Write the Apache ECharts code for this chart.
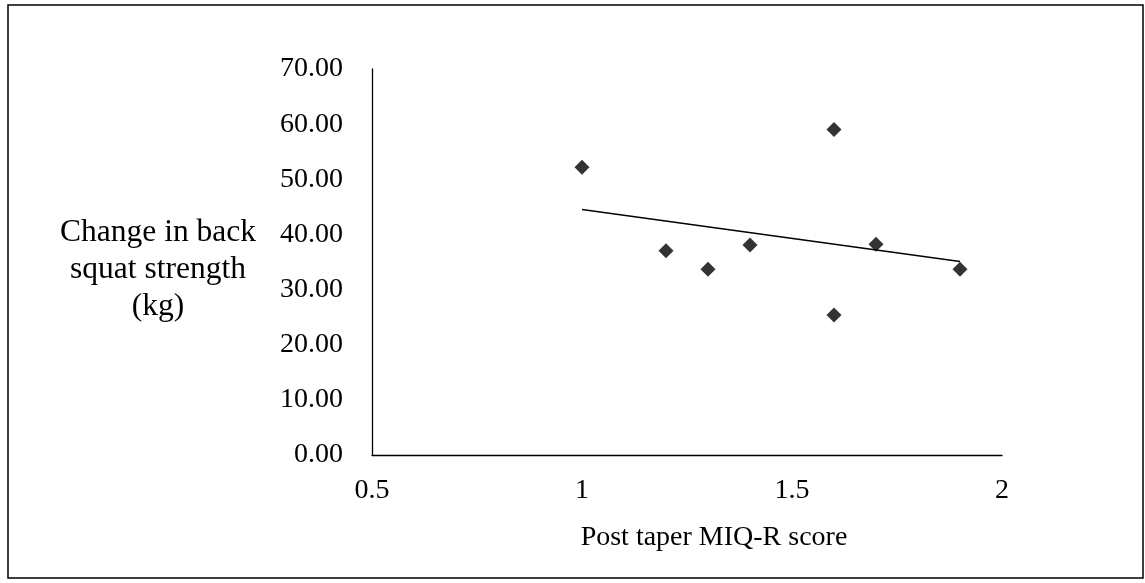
<!DOCTYPE html>
<html>
<head>
<meta charset="utf-8">
<script src="https://cdn.jsdelivr.net/npm/echarts@6/dist/echarts.min.js"></script>
<style>
  html, body { margin: 0; padding: 0; background: #fff; }
  #chart { width: 1145px; height: 583px; }
</style>
</head>
<body>
<div id="chart"></div>
<script>
// 数据
var miqScore = [1.0, 1.2, 1.3, 1.4, 1.6, 1.6, 1.7, 1.9];
var squatChange = [52.2, 37.05, 33.7, 38.1, 59.05, 25.4, 38.2, 33.7];
var xTicks = [0.5, 1, 1.5, 2];
var yTicks = [0, 10, 20, 30, 40, 50, 60, 70];

var font = '"Liberation Serif", "Times New Roman", serif';

// 线性趋势线 (最小二乘)
function trend(xs, ys) {
  var n = xs.length, mx = 0, my = 0;
  for (var i = 0; i < n; i++) { mx += xs[i]; my += ys[i]; }
  mx /= n; my /= n;
  var sxy = 0, sxx = 0;
  for (var j = 0; j < n; j++) {
    sxy += (xs[j] - mx) * (ys[j] - my);
    sxx += (xs[j] - mx) * (xs[j] - mx);
  }
  var k = sxy / sxx, b = my - k * mx;
  var x0 = Math.min.apply(null, xs), x1 = Math.max.apply(null, xs);
  return [[x0, k * x0 + b], [x1, k * x1 + b]];
}

var points = miqScore.map(function (x, i) { return [x, squatChange[i]]; });

var myChart = echarts.init(document.getElementById('chart'));
var option = {
  animation: false,
  grid: {
    left: 372,
    right: 143,
    top: 69,
    bottom: 128
  },
  xAxis: {
    type: 'value',
    min: xTicks[0],
    max: xTicks[xTicks.length - 1],
    interval: 0.5,
    axisLine: { show: true, onZero: false, lineStyle: { color: '#000', width: 1.3 } },
    axisTick: { show: false },
    splitLine: { show: false },
    axisLabel: {
      margin: 22,
      color: '#000',
      fontFamily: font,
      fontSize: 28
    }
  },
  yAxis: {
    type: 'value',
    min: yTicks[0],
    max: yTicks[yTicks.length - 1],
    interval: 10,
    axisLine: { show: true, lineStyle: { color: '#000', width: 1.3 } },
    axisTick: { show: false },
    splitLine: { show: false },
    axisLabel: {
      margin: 29,
      color: '#000',
      fontFamily: font,
      fontSize: 28,
      formatter: function (v) { return v.toFixed(2); }
    }
  },
  graphic: [
    {
      type: 'rect',
      shape: { x: 8, y: 5, width: 1135, height: 573 },
      style: { fill: 'none', stroke: '#000', lineWidth: 1.5 },
      silent: true
    },
    {
      type: 'text',
      x: 158,
      y: 214,
      style: {
        text: 'Change in back\nsquat strength\n(kg)',
        align: 'center',
        verticalAlign: 'top',
        fill: '#000',
        font: '31.5px ' + font,
        lineHeight: 37
      },
      silent: true
    },
    {
      type: 'text',
      x: 714,
      y: 524,
      style: {
        text: 'Post taper MIQ-R score',
        align: 'center',
        verticalAlign: 'top',
        fill: '#000',
        font: '28px ' + font
      },
      silent: true
    }
  ],
  series: [
    {
      name: 'scores',
      type: 'scatter',
      symbol: 'diamond',
      symbolSize: 15,
      itemStyle: { color: '#000' },
      data: points
    },
    {
      name: 'trend',
      type: 'line',
      showSymbol: false,
      lineStyle: { color: '#000', width: 1.5 },
      data: trend(miqScore, squatChange)
    }
  ]
};
// 把配置给实例对象
myChart.setOption(option);
</script>
</body>
</html>
